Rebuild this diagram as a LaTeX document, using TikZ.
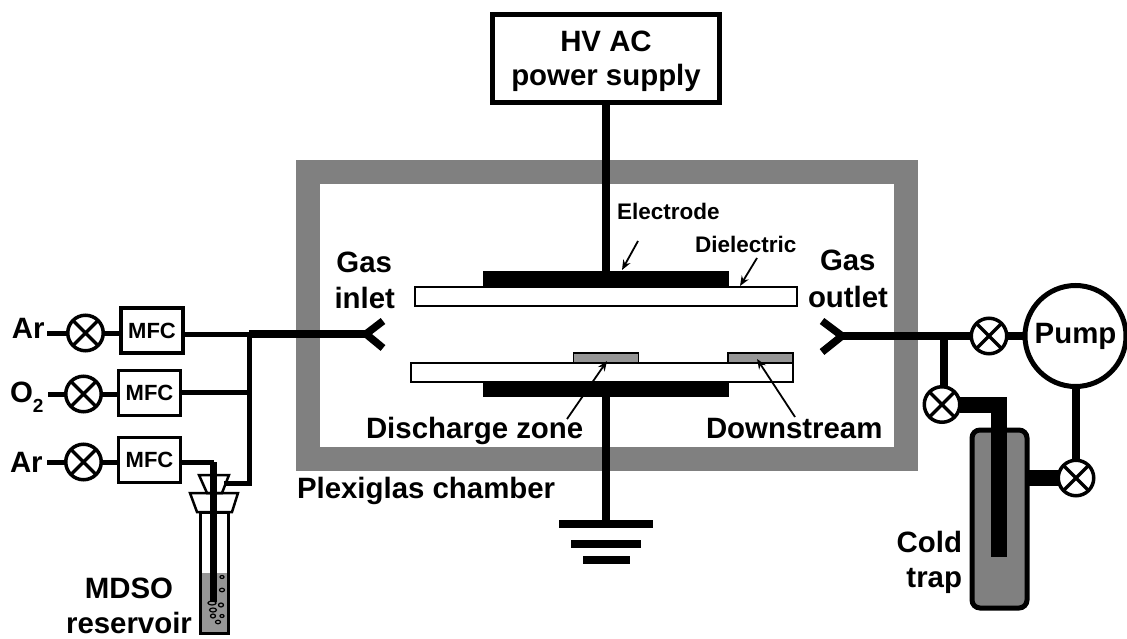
\documentclass[tikz,border=0pt]{standalone}
\usepackage{fontspec}
\setmainfont{Liberation Sans}[BoldFont={Liberation Sans Bold}]
\usetikzlibrary{arrows.meta}
\definecolor{framegray}{HTML}{808080}
\definecolor{liquidgray}{HTML}{969696}
\tikzset{
  lbl/.style={inner sep=0pt,outer sep=0pt,font=\bfseries\fontsize{29.4}{29.4}\selectfont,text=black},
  smalllbl/.style={lbl,font=\bfseries\fontsize{22.5}{22.5}\selectfont},
  block/.style={draw=black,fill=white,inner sep=0pt,outer sep=0pt},
  solidblock/.style={draw=none,fill=black,inner sep=0pt,outer sep=0pt},
  mfc/.style={block,line width=3.5pt,minimum width=62pt,minimum height=45pt,font=\bfseries\fontsize{22}{22}\selectfont},
  valve/.style={circle,draw=black,fill=white,line width=3.5pt,minimum size=35.5pt,inner sep=0pt,outer sep=0pt,
    path picture={\draw[line width=3.5pt,black] (path picture bounding box.north west)--(path picture bounding box.south east)
      (path picture bounding box.north east)--(path picture bounding box.south west);}},
  pipe/.style={line width=5pt,black},
  thickpipe/.style={line width=7.5pt,black},
  widepipe/.style={line width=16pt,black},
  pointer/.style={line width=1.8pt,black,-{Stealth[length=10pt,width=8pt]}},
  bubble/.style={draw=black,line width=1.2pt,fill=none}
}
\begin{document}
\begin{tikzpicture}[x=1pt,y=-1pt]
\useasboundingbox (0,0) rectangle (1127,639);
% chamber
\node[draw=framegray,line width=24pt,fill=white,inner sep=0pt,outer sep=0pt,minimum width=598pt,minimum height=287pt] (chamber) at (606.5,315.5) {};
% electrodes
\node[block,line width=1.5pt,minimum width=382pt,minimum height=19pt] (dieltop) at (606,296.5) {};
\node[block,line width=1.5pt,minimum width=382pt,minimum height=19pt] (dielbot) at (602,372.5) {};
\node[solidblock,minimum width=246pt,minimum height=16pt] (elecup) at (606,279) {};
\node[solidblock,minimum width=246pt,minimum height=15pt] (elecdown) at (606,389.5) {};
\node[draw=black,fill=liquidgray,line width=1.5pt,inner sep=0pt,outer sep=0pt,minimum width=65pt,minimum height=10pt] (patchA) at (606,358) {};
\node[draw=black,fill=liquidgray,line width=1.5pt,inner sep=0pt,outer sep=0pt,minimum width=65pt,minimum height=10pt] (patchB) at (760.5,358) {};
% HV
\node[block,line width=5pt,minimum width=227pt,minimum height=88pt] (hv) at (606,58.5) {};
\draw[thickpipe] (hv.south) -- (elecup.north);
% ground
\node[solidblock,minimum width=94pt,minimum height=8pt] (g1) at (606,524) {};
\node[solidblock,minimum width=70pt,minimum height=8pt] (g2) at (606,544) {};
\node[solidblock,minimum width=47pt,minimum height=8pt] (g3) at (606,560) {};
\draw[thickpipe] (elecdown.south) -- (g1.north);
% left supply
\node[mfc] (m1) at (152,330.5) {MFC};
\node[mfc] (m2) at (149.5,393) {MFC};
\node[mfc] (m3) at (149.5,460) {MFC};
\node[valve] (v1) at (85.5,333) {};
\node[valve] (v2) at (83.5,394) {};
\node[valve] (v3) at (83.5,462) {};
\node[lbl,anchor=base west] (ar1) at (12,338) {Ar};
\node[lbl,anchor=base west] (o2) at (10,402) {O\raisebox{-10pt}{\fontsize{19}{19}\selectfont 2}};
\node[lbl,anchor=base west] (ar3) at (10,472) {Ar};
\coordinate (j1) at (249,334);
\coordinate (j2) at (249,392);
\coordinate (j3) at (249,483);
\coordinate (tin) at (213.5,462);
\coordinate (fun) at (226,483);
\coordinate (y1) at (366,334);
\coordinate (a1) at (47,333);
\coordinate (a2) at (48,394);
\coordinate (a3) at (47,462);
\draw[pipe] (a1) -- (v1);
\draw[pipe] (v1) -- (v1 -| m1.west);
\draw[pipe] (a2) -- (v2);
\draw[pipe] (v2) -- (v2 -| m2.west);
\draw[pipe] (a3) -- (v3);
\draw[pipe] (v3) -- (v3 -| m3.west);
\draw[pipe] (m1.east |- j1) -- (j1);
\draw[pipe] (m2.east |- j2) -- (j2);
\draw[pipe] (m3.east |- tin) -- (tin);
\draw[pipe,line cap=rect] (j1) -- (j3) -- (fun);
\draw[thickpipe] (j1) -- (y1);
\draw[thickpipe,line join=miter] (383,321) -- (y1) -- (383,348);
% reservoir
\fill[liquidgray] (200,573) rectangle (228,633);
\node[draw=black,line width=3pt,inner sep=0pt,outer sep=0pt,minimum width=28pt,minimum height=121pt] (tube) at (214,572.5) {};
\draw[thickpipe] (tin) -- (213.5,602);
\draw[black,line width=2.5pt] (199,475) -- (229,475) -- (222,493) -- (207,493) -- cycle;
\draw[black,line width=2.5pt] (190,493) -- (238,493) -- (232,512) -- (197,512) -- cycle;
\draw[bubble] (222,577) ellipse (2pt and 1.5pt);
\draw[bubble] (222,590) ellipse (2.5pt and 1.8pt);
\draw[bubble] (212,603) ellipse (4pt and 2pt);
\draw[bubble] (221,605) ellipse (2.5pt and 2pt);
\draw[bubble] (213,610) ellipse (3.5pt and 2pt);
\draw[bubble] (213,616) ellipse (2.5pt and 2pt);
\draw[bubble] (222,616) ellipse (2pt and 1.5pt);
\draw[bubble] (218,622) ellipse (2.5pt and 1.8pt);
% right
\node[draw=black,fill=framegray,line width=5pt,rounded corners=8pt,inner sep=0pt,outer sep=0pt,minimum width=55pt,minimum height=178pt] (trap) at (999.5,519) {};
\node[valve] (v4) at (989,336) {};
\node[valve] (v5) at (942,404.5) {};
\node[valve] (v6) at (1076,478) {};
\node[circle,draw=black,fill=white,line width=5pt,inner sep=0pt,outer sep=0pt,minimum size=101pt,font=\bfseries\fontsize{29.4}{29.4}\selectfont] (pump) at (1075.5,336) {Pump};
\coordinate (y2) at (842,336);
\coordinate (t1) at (944,336);
\coordinate (elbow) at (998.5,404.5);
\coordinate (dip) at (998.5,557);
\draw[thickpipe] (y2) -- (v4);
\draw[thickpipe] (v4) -- (pump);
\draw[thickpipe,line join=miter] (822,321) -- (y2) -- (822,352);
\draw[thickpipe] (t1) -- (t1 |- v5.north);
\draw[widepipe,line join=miter] (v5.east) -- (elbow) -- (dip);
\draw[widepipe] (trap.east |- v6) -- (v6.west);
\draw[thickpipe] (pump.south -| v6) -- (v6.north);
% labels
\node[lbl,anchor=base] (t1a) at (606,52) {HV AC};
\node[lbl,anchor=base] (t1b) at (606,85.5) {power supply};
\node[lbl,anchor=base east] (gi1) at (392,272) {Gas};
\node[lbl,anchor=base east] (gi2) at (395,308) {inlet};
\node[lbl,anchor=base west] (go1) at (820,270) {Gas};
\node[lbl,anchor=base west] (go2) at (808,307) {outlet};
\node[smalllbl,anchor=base west] (electrodeL) at (617,220) {Electrode};
\node[smalllbl,anchor=base west] (dielL) at (695,252) {Dielectric};
\node[lbl,anchor=base west] (dz) at (366,438) {Discharge zone};
\node[lbl,anchor=base west] (ds) at (706,438) {Downstream};
\node[lbl,anchor=base west] (pc) at (297,498) {Plexiglas chamber};
\node[lbl,anchor=base east] (ct1) at (962,552) {Cold};
\node[lbl,anchor=base east] (ct2) at (962,587) {trap};
\node[lbl,anchor=base] (md1) at (129,598) {MDSO};
\node[lbl,anchor=base] (md2) at (129,633) {reservoir};
% pointers
\coordinate (p1) at (638,241); \coordinate (p2) at (757,258); \coordinate (p3) at (567,419); \coordinate (p4) at (795,417);
\coordinate (q1) at (622,270); \coordinate (q2) at (740,286); \coordinate (q3) at (607,361); \coordinate (q4) at (757,359);
\draw[pointer] (p1) -- (q1);
\draw[pointer] (p2) -- (q2);
\draw[pointer] (p3) -- (q3);
\draw[pointer] (p4) -- (q4);
\end{tikzpicture}
\end{document}
